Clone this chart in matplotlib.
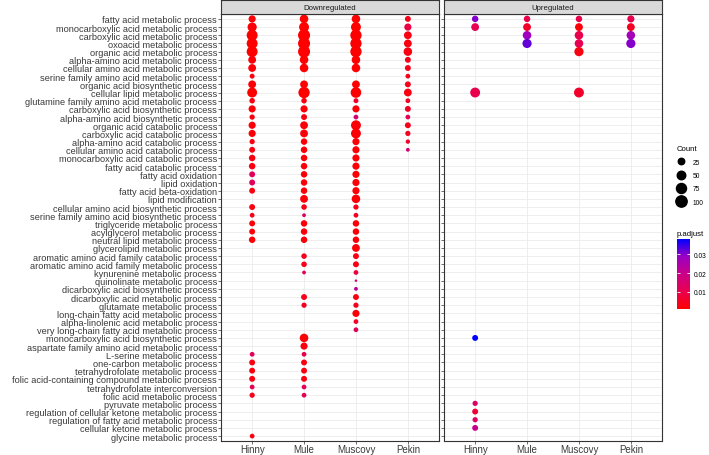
import numpy as np
import matplotlib.pyplot as plt
from matplotlib.colors import LinearSegmentedColormap, Normalize
from matplotlib.lines import Line2D

plt.rcParams['font.family'] = ['Liberation Sans', 'DejaVu Sans']

N = np.nan

terms = [
    "fatty acid metabolic process", "monocarboxylic acid metabolic process",
    "carboxylic acid metabolic process", "oxoacid metabolic process",
    "organic acid metabolic process", "alpha-amino acid metabolic process",
    "cellular amino acid metabolic process", "serine family amino acid metabolic process",
    "organic acid biosynthetic process", "cellular lipid metabolic process",
    "glutamine family amino acid metabolic process", "carboxylic acid biosynthetic process",
    "alpha-amino acid biosynthetic process", "organic acid catabolic process",
    "carboxylic acid catabolic process", "alpha-amino acid catabolic process",
    "cellular amino acid catabolic process", "monocarboxylic acid catabolic process",
    "fatty acid catabolic process", "fatty acid oxidation",
    "lipid oxidation", "fatty acid beta-oxidation",
    "lipid modification", "cellular amino acid biosynthetic process",
    "serine family amino acid biosynthetic process", "triglyceride metabolic process",
    "acylglycerol metabolic process", "neutral lipid metabolic process",
    "glycerolipid metabolic process", "aromatic amino acid family catabolic process",
    "aromatic amino acid family metabolic process", "kynurenine metabolic process",
    "quinolinate metabolic process", "dicarboxylic acid biosynthetic process",
    "dicarboxylic acid metabolic process", "glutamate metabolic process",
    "long-chain fatty acid metabolic process", "alpha-linolenic acid metabolic process",
    "very long-chain fatty acid metabolic process", "monocarboxylic acid biosynthetic process",
    "aspartate family amino acid metabolic process", "L-serine metabolic process",
    "one-carbon metabolic process", "tetrahydrofolate metabolic process",
    "folic acid-containing compound metabolic process", "tetrahydrofolate interconversion",
    "folic acid metabolic process", "pyruvate metabolic process",
    "regulation of cellular ketone metabolic process", "regulation of fatty acid metabolic process",
    "cellular ketone metabolic process", "glycine metabolic process",
]
species = ["Hinny", "Mule", "Muscovy", "Pekin"]


def pad(v):
    # missing terms at the end of a column
    return v + [N] * (len(terms) - len(v))


# Downregulated : Count and p.adjust per species, in term order
down_hinny_n = pad([32, 60, 92, 92, 92, 40, 40, 13, 40, 72,
                    17, 32, 15, 32, 32, 15, 20, 25, 25, 20,
                    20, 20, N, 20, 12, 20, 20, 25, N, N,
                    N, N, N, N, N, N, N, N, N, N,
                    N, 12, 20, 20, 20, 12, 15, N, N, N,
                    N, 12])
down_hinny_p = pad([.002, .002, .001, .001, .001, .002, .002, .003, .002, .001,
                    .003, .002, .003, .002, .002, .003, .003, .003, .003, .012,
                    .012, .003, N, .003, .004, .002, .002, .002, N, N,
                    N, N, N, N, N, N, N, N, N, N,
                    N, .012, .003, .003, .003, .011, .004, N, N, N,
                    N, .003])
down_mule_n = pad([50, 72, 115, 115, 115, 50, 50, N, 40, 100,
                   17, 32, 20, 40, 40, 25, 25, 25, 25, 25,
                   25, 25, 40, 17, 8, 25, 25, 25, N, 17,
                   17, 8, N, N, 20, 15, N, N, N, 50,
                   32, 12, 20, 20, 20, 12, 12])
down_mule_p = pad([.001, .001, .001, .001, .001, .001, .001, N, .001, .001,
                   .003, .002, .003, .002, .002, .002, .002, .002, .002, .002,
                   .002, .002, .002, .003, .012, .002, .002, .002, N, .004,
                   .004, .012, N, N, .004, .005, N, N, N, .002,
                   .003, .010, .003, .003, .003, .012, .011])
down_muscovy_n = pad([50, 72, 100, 100, 100, 50, 50, N, 40, 85,
                      13, 32, 12, 72, 72, 32, 32, 32, 32, 32,
                      32, 32, 50, 15, 12, 25, 25, 25, 40, 20,
                      20, 12, 6, 8, 20, 15, 32, 12, 12])
down_muscovy_p = pad([.001, .001, .001, .001, .001, .001, .001, N, .001, .001,
                      .006, .002, .016, .002, .002, .002, .002, .002, .002, .002,
                      .002, .002, .002, .004, .005, .002, .002, .002, .002, .003,
                      .003, .008, .014, .022, .003, .004, .002, .006, .012])
down_pekin_n = pad([20, 32, 40, 40, 50, 20, 20, 12, 20, 40,
                    12, 20, 12, 20, 15, 10, 8])
down_pekin_p = pad([.004, .009, .003, .003, .003, .004, .004, .004, .004, .003,
                    .005, .005, .011, .004, .005, .006, .016])

# Upregulated
up_hinny_n = pad([25, 40, N, N, N, N, N, N, N, 72] + [N] * 29 +
                 [20, N, N, N, N, N, N, N, 15, 20, 15, 20])
up_hinny_p = pad([.030, .011, N, N, N, N, N, N, N, .010] + [N] * 29 +
                 [.038, N, N, N, N, N, N, N, .014, .007, .013, .020])
up_mule_n = pad([25, 40, 50, 60])
up_mule_p = pad([.010, .006, .028, .032])
up_muscovy_n = pad([25, 40, 50, 50, 60, N, N, N, N, 72])
up_muscovy_p = pad([.010, .002, .010, .011, .003, N, N, N, N, .006])
up_pekin_n = pad([32, 40, 50, 60])
up_pekin_p = pad([.010, .005, .027, .030])

panels = [
    ("Downregulated", [down_hinny_n, down_mule_n, down_muscovy_n, down_pekin_n],
     [down_hinny_p, down_mule_p, down_muscovy_p, down_pekin_p]),
    ("Upregulated", [up_hinny_n, up_mule_n, up_muscovy_n, up_pekin_n],
     [up_hinny_p, up_mule_p, up_muscovy_p, up_pekin_p]),
]

all_n = np.array([v for p in panels for c in p[1] for v in c], float)
all_p = np.array([v for p in panels for c in p[2] for v in c], float)
cmin, cmax = np.nanmin(all_n), np.nanmax(all_n)
pmin, pmax = np.nanmin(all_p), np.nanmax(all_p)


def dot_diam(c):
    # ggplot-like area scale, diameter in points
    mm = 1 + 5 * np.sqrt((np.asarray(c, float) - cmin) / (cmax - cmin))
    return (mm * 2.845 + 0.94) * 0.48


cmap = LinearSegmentedColormap.from_list(
    "redblue", ["#FF0000", "#E8004F", "#CA0089", "#9A00C2", "#0000FF"])
norm = Normalize(pmin, pmax)

W, H = 709, 456
fig = plt.figure(figsize=(W / 100, H / 100), dpi=100)


def box(l, t, r, b):
    return [l / W, 1 - b / H, (r - l) / W, (b - t) / H]


txt = "#3A3A3A"
lefts = [221, 444]
ypos = np.arange(len(terms))
for k, (name, counts, pvals) in enumerate(panels):
    l = lefts[k]
    ax = fig.add_axes(box(l, 15, l + 218, 442))
    for j, sp in enumerate(species):
        n = np.array(counts[j], float)
        p = np.array(pvals[j], float)
        ok = ~np.isnan(n)
        sc = ax.scatter(np.full(ok.sum(), j), ypos[ok], s=dot_diam(n[ok]) ** 2,
                        c=p[ok], cmap=cmap, norm=norm, linewidths=0, zorder=3)
    ax.set_xlim(-0.6, 3.6)
    ax.set_ylim(len(terms) - 0.4, -0.6)
    ax.set_xticks(range(4))
    ax.set_xticklabels(species, fontsize=7, color=txt)
    ax.set_yticks(ypos)
    if k == 0:
        ax.set_yticklabels(terms, fontsize=6.7, color=txt)
    else:
        ax.set_yticklabels([])
    ax.tick_params(length=2, width=0.5, color="#333333", pad=0.8)
    ax.tick_params(axis="x", pad=0.2)
    ax.grid(color="#EBEBEB", linewidth=0.6)
    ax.set_axisbelow(True)
    for s in ax.spines.values():
        s.set_color("#333333")
        s.set_linewidth(0.8)
    # facet strip
    st = fig.add_axes(box(l, 1, l + 218, 15))
    st.set_facecolor("#D9D9D9")
    st.set_xticks([])
    st.set_yticks([])
    for s in st.spines.values():
        s.set_color("#333333")
        s.set_linewidth(0.8)
    st.text(0.5, 0.45, name, ha="center", va="center", fontsize=5.6, color="#1A1A1A")

# size legend
keys = [25, 50, 75, 100]
handles = [Line2D([], [], ls="none", marker="o", color="black",
                  markersize=dot_diam(v)) for v in keys]
fig.legend(handles, [str(v) for v in keys], title="Count", loc="upper left",
           bbox_to_anchor=(673 / W, 1 - 143 / H), frameon=False, fontsize=4.8,
           title_fontsize=5.6, labelspacing=0.95, handletextpad=1.0,
           borderpad=0, alignment="left", handlelength=1.4)

# colour bar
cax = fig.add_axes(box(677, 240, 690, 310))
cb = fig.colorbar(sc, cax=cax, ticks=[0.01, 0.02, 0.03])
cb.outline.set_visible(False)
cax.tick_params(direction="in", color="white", length=2.5, width=0.6,
                left=True, right=True, labelsize=4.8, pad=2.5)
cax.set_title("p.adjust", loc="left", fontsize=5.6, pad=3)

fig.savefig("out.png", dpi=100)
